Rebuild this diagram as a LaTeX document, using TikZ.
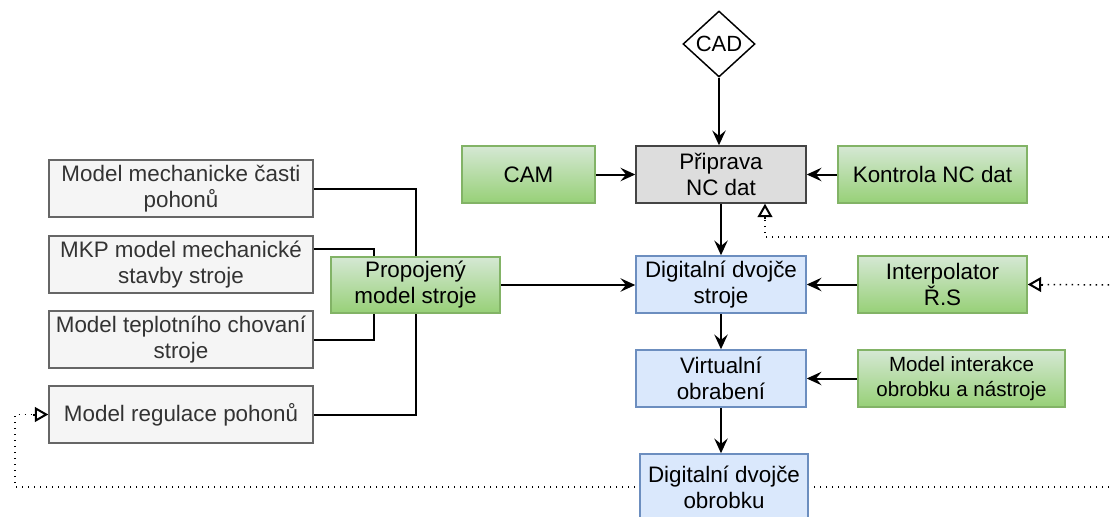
\documentclass[tikz,border=0pt]{standalone}
\usepackage{fontspec}
\setmainfont{Liberation Sans}
\usetikzlibrary{shapes.geometric,arrows.meta,backgrounds}
\definecolor{gfillT}{HTML}{D5E8D4}
\definecolor{gfillB}{HTML}{97D077}
\definecolor{gline}{HTML}{82B366}
\definecolor{bfill}{HTML}{DAE8FC}
\definecolor{bline}{HTML}{6C8EBF}
\definecolor{lfill}{HTML}{F5F5F5}
\definecolor{lline}{HTML}{666666}
\definecolor{ltext}{HTML}{333333}
\definecolor{pfill}{HTML}{DDDDDD}
\definecolor{pline}{HTML}{444444}
\begin{document}
\begin{tikzpicture}[x=0.75pt,y=-0.75pt,
 base/.style={rectangle, draw, line width=1.1pt, align=center, inner sep=1pt, font=\fontsize{16.8}{19.5}\selectfont},
 sz/.style 2 args={minimum width=#1*0.75pt, minimum height=#2*0.75pt},
 greenbox/.style={base, draw=gline, top color=gfillT, bottom color=gfillB},
 bluebox/.style={base, draw=bline, fill=bfill},
 graybox/.style={base, draw=lline, fill=lfill, text=ltext},
 prepbox/.style={base, draw=pline, fill=pfill},
 conn/.style={line width=1.5pt, -{Stealth[length=11pt,width=10pt,inset=4pt]}},
 link/.style={line width=1.5pt},
 fb/.style={line width=1.1pt, dash pattern=on 1pt off 3.5pt},
 fbtip/.style={line width=1.5pt, -{Triangle[open,length=10pt,width=11pt]}},
]
\useasboundingbox (0,0) rectangle (1111,517);
\clip (0,0) rectangle (1111,517);

\node[shape=diamond, draw, line width=1.1pt, fill=white, inner sep=0pt, aspect=1, sz={72}{66}, font=\fontsize{16.5}{18}\selectfont] (cad) at (719,44) {CAD};
\node[greenbox, sz={133}{57}] (cam) at (528.5,174.5) {CAM};
\node[prepbox, sz={170}{57}] (prip) at (721,174.5) {Připrava\\NC dat};
\node[greenbox, sz={189}{57}] (kontrola) at (932.5,174.5) {Kontrola NC dat};
\node[bluebox, sz={170}{57}] (dstroje) at (721,284.5) {Digitalní dvojče\\stroje};
\node[greenbox, sz={169}{57}] (interp) at (942.5,284.5) {Interpolator\\Ř.S};
\node[bluebox, sz={170}{57}] (virt) at (721,378.5) {Virtualní\\obrabení};
\node[greenbox, sz={207}{57}, font=\fontsize{15.4}{19}\selectfont] (interakce) at (961.5,378.5) {Model interakce\\obrobku a nástroje};
\node[bluebox, sz={168}{66}] (dobr) at (724,487) {Digitalní dvojče\\obrobku};

\node[graybox, sz={264}{57}] (mech) at (181,188.5) {Model mechanicke časti\\pohonů};
\node[graybox, sz={264}{57}] (mkp) at (181,264.5) {MKP model mechanické\\stavby stroje};
\node[graybox, sz={264}{57}] (tepl) at (181,339.5) {Model teplotního chovaní\\stroje};
\node[graybox, sz={264}{57}] (regul) at (181,414.5) {Model regulace pohonů};
\node[greenbox, sz={169}{56}] (prop) at (415.5,285) {Propojený\\model stroje};

\coordinate (e1) at (1115,237);
\coordinate (e2) at (1115,285);
\coordinate (e3) at (1115,487);
\coordinate (c3) at (15,487);

\begin{pgfonlayer}{background}
\draw[link] (mech.east) -| (prop.north);
\draw[link] (regul.east) -| (prop.south);
\draw[link] ([yshift=11.6pt]mkp.east) -| ([xshift=-31.1pt]prop.north);
\draw[link] (tepl.east) -| ([xshift=-31.1pt]prop.south);

\draw[conn] (cad.south) -- (cad.south |- prip.north);
\draw[conn] (cam.east) -- (prip.west);
\draw[conn] (kontrola.west) -- (prip.east);
\draw[conn] (prip.south) -- (dstroje.north);
\draw[conn] (prop.east) -- (prop.east -| dstroje.west);
\draw[conn] (interp.west) -- (dstroje.east);
\draw[conn] (dstroje.south) -- (virt.north);
\draw[conn] (interakce.west) -- (virt.east);
\draw[conn] (virt.south) -- (virt.south |- dobr.north);

\draw[fb] (e1) -| ([xshift=33pt,yshift=-11pt]prip.south);
\draw[fbtip] ([xshift=33pt,yshift=-11.2pt]prip.south) -- ([xshift=33pt]prip.south);
\draw[fb] (e2) -- ([xshift=11pt]interp.east);
\draw[fbtip] ([xshift=11.2pt]interp.east) -- (interp.east);
\draw[fb] (e3) -- (c3) |- ([xshift=-11pt]regul.west);
\draw[fbtip] ([xshift=-11.2pt]regul.west) -- (regul.west);
\end{pgfonlayer}
\end{tikzpicture}
\end{document}
